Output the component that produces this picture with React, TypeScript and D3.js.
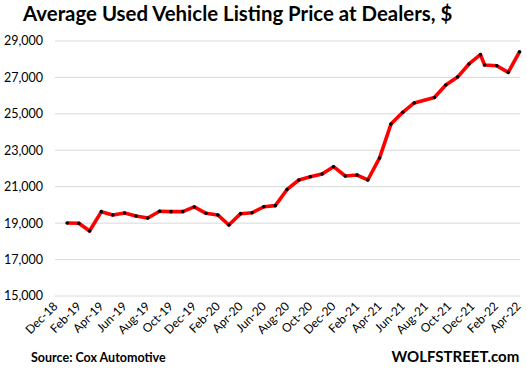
import React from "react";
import * as d3 from "d3";

const dates: string[] = [
  "2019-01-01", "2019-02-01", "2019-03-01", "2019-04-01", "2019-05-01", "2019-06-01",
  "2019-07-01", "2019-08-01", "2019-09-01", "2019-10-01", "2019-11-01", "2019-12-01",
  "2020-01-01", "2020-02-01", "2020-03-01", "2020-04-01", "2020-05-01", "2020-06-01",
  "2020-07-01", "2020-08-01", "2020-09-01", "2020-10-01", "2020-11-01", "2020-12-01",
  "2021-01-01", "2021-02-01", "2021-03-01", "2021-04-01", "2021-05-01", "2021-06-01",
  "2021-07-01", "2021-08-23", "2021-09-22", "2021-10-23", "2021-11-22", "2021-12-22",
  "2022-01-02", "2022-02-03", "2022-03-05", "2022-04-04",
];

const prices: number[] = [
  19010, 18990, 18570, 19630, 19450, 19560, 19390, 19280, 19650, 19630, 19630, 19890,
  19540, 19450, 18900, 19520, 19570, 19900, 19960, 20850, 21370, 21550, 21700, 22100,
  21590, 21640, 21370, 22580, 24440, 25085, 25600, 25900, 26580, 27020, 27740, 28250,
  27680, 27640, 27280, 28410,
];

const xTickLabels: string[] = [
  "Dec-18", "Feb-19", "Apr-19", "Jun-19", "Aug-19", "Oct-19", "Dec-19", "Feb-20",
  "Apr-20", "Jun-20", "Aug-20", "Oct-20", "Dec-20", "Feb-21", "Apr-21", "Jun-21",
  "Aug-21", "Oct-21", "Dec-21", "Feb-22", "Apr-22",
];

const yTicks: number[] = [15000, 17000, 19000, 21000, 23000, 25000, 27000, 29000];

const title = "Average Used Vehicle Listing Price at Dealers, $";
const sourceText = "Source: Cox Automotive";
const brandText = "WOLFSTREET.com";

const W = 527;
const H = 371;

export default function App() {
  const parseDate = d3.timeParse("%Y-%m-%d");
  const parseTick = d3.timeParse("%b-%y");
  const data = dates.map((d, i) => ({ date: parseDate(d) as Date, value: prices[i] }));

  const x = d3
    .scaleTime()
    .domain([new Date(2018, 11, 1), new Date(2022, 3, 5)])
    .range([55.3, 520]);
  const y = d3.scaleLinear().domain([15000, 29000]).range([296, 41]);

  const line = d3
    .line<{ date: Date; value: number }>()
    .x((d) => x(d.date))
    .y((d) => y(d.value));

  const fmt = d3.format(",");
  const font = "Lato, 'Open Sans', sans-serif";

  return (
    <svg
      width={W}
      height={H}
      style={{ position: "absolute", left: 0, top: 0, background: "#fff" }}
      fontFamily={font}
    >
      <rect x={0} y={0} width={W} height={H} fill="#fff" />
      <text x={23} y={20.7} fontSize={20.4} fontWeight="bold" fill="#000">
        {title}
      </text>

      {yTicks.map((t) => (
        <g key={t}>
          <line x1={55} x2={520} y1={y(t)} y2={y(t)} stroke="#d9d9d9" strokeWidth={1} />
          <text
            x={43}
            y={y(t)}
            dy="0.35em"
            textAnchor="end"
            fontSize={12.5}
            fill="#000"
          >
            {fmt(t)}
          </text>
        </g>
      ))}

      {xTickLabels.map((lab) => {
        const tx = x(parseTick(lab) as Date);
        return (
          <text
            key={lab}
            transform={`translate(${tx + 3},${307}) rotate(-45)`}
            textAnchor="end"
            fontSize={12}
            fill="#000"
          >
            {lab}
          </text>
        );
      })}

      <path
        d={line(data) || ""}
        fill="none"
        stroke="#ff0000"
        strokeWidth={3.6}
        strokeLinejoin="round"
      />
      {data.map((d, i) => (
        <circle key={i} cx={x(d.date)} cy={y(d.value)} r={1.8} fill="#000" />
      ))}

      <text x={31} y={361.5} fontSize={12.5} fontWeight="bold" fill="#000">
        {sourceText}
      </text>
      <text x={391.5} y={361.7} fontSize={15} fontWeight="bold" fill="#000">
        {brandText}
      </text>
    </svg>
  );
}
